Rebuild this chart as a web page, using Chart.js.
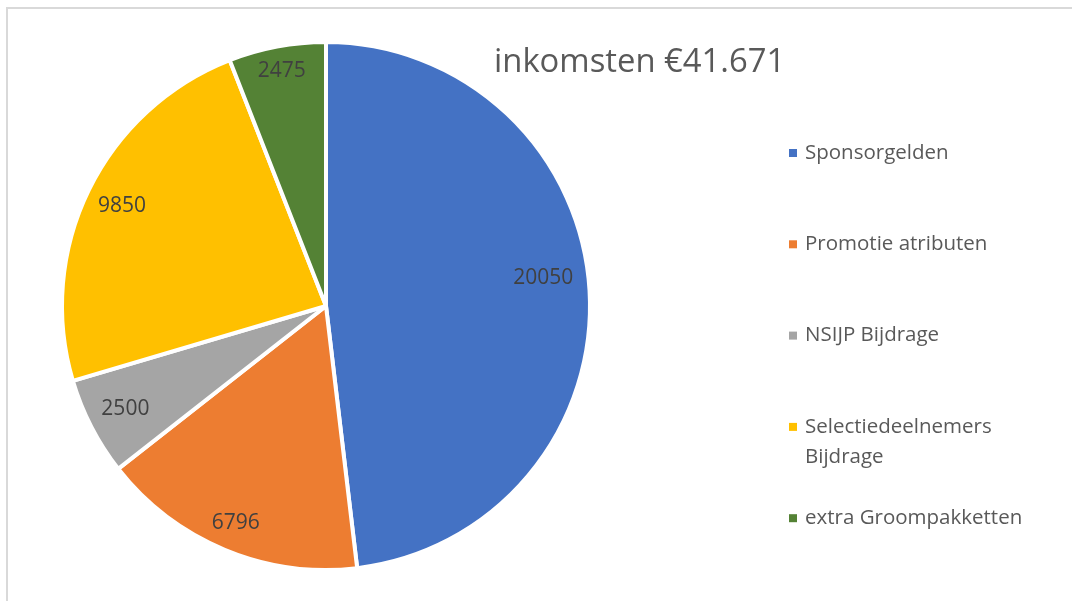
<!DOCTYPE html>
<html lang="nl">
<head>
    <meta charset="UTF-8">
    <title>inkomsten</title>
    <script src="https://cdn.jsdelivr.net/npm/chart.js"></script>
    <style>
        html, body { margin: 0; padding: 0; background: #fff; overflow: hidden; }
        #frame {
            position: absolute; left: 6px; top: 7px;
            width: 2000px; height: 2000px;
            border-left: 2px solid #d9d9d9; border-top: 2px solid #d9d9d9;
        }
        #wrap { position: absolute; left: 0; top: 0; width: 1072px; height: 601px; }
    </style>
</head>
<body>
    <div id="frame"></div>
    <div id="wrap"><canvas id="incomeChart" width="1072" height="601"></canvas></div>

    <script>
        const titleText = 'inkomsten €41.671';
        const categories = ['Sponsorgelden', 'Promotie atributen', 'NSIJP Bijdrage', 'Selectiedeelnemers Bijdrage', 'extra Groompakketten'];
        const legendLines = [['Sponsorgelden'], ['Promotie atributen'], ['NSIJP Bijdrage'], ['Selectiedeelnemers', 'Bijdrage'], ['extra Groompakketten']];
        const amounts = [20050, 6796, 2500, 9850, 2475];
        const sliceColors = ['#4472C4', '#ED7D31', '#A5A5A5', '#FFC000', '#548235'];

        const fontFamily = '"Open Sans", "Liberation Sans", sans-serif';
        // how far out along the slice each value label sits (like Excel's best fit)
        const labelRadius = [0.83, 0.89, 0.855, 0.86, 0.905];
        const labelTurn = [-0.07, 0, 0, 0, 0]; // radians, nudge along the arc

        // labels inside the slices, title and the legend on the right
        const decorations = {
            id: 'decorations',
            afterDatasetsDraw(chart) {
                const ctx = chart.ctx;
                const meta = chart.getDatasetMeta(0);
                ctx.save();

                ctx.fillStyle = '#404040';
                ctx.font = '21px ' + fontFamily;
                ctx.textAlign = 'center';
                ctx.textBaseline = 'middle';
                meta.data.forEach((arc, i) => {
                    const p = arc.getProps(['x', 'y', 'startAngle', 'endAngle', 'outerRadius']);
                    const mid = (p.startAngle + p.endAngle) / 2 + labelTurn[i];
                    const r = p.outerRadius * labelRadius[i];
                    ctx.fillText(String(amounts[i]), p.x + Math.cos(mid) * r, p.y + Math.sin(mid) * r);
                });

                ctx.fillStyle = '#595959';
                ctx.font = '32.8px ' + fontFamily;
                ctx.textAlign = 'left';
                ctx.fillText(titleText, 494, 63);

                ctx.font = '20.5px ' + fontFamily;
                legendLines.forEach((lines, i) => {
                    const y = 153 + i * 91.3;
                    ctx.fillStyle = sliceColors[i];
                    ctx.fillRect(789, y - 4, 8, 8);
                    ctx.fillStyle = '#595959';
                    lines.forEach((t, j) => ctx.fillText(t, 805, y + j * 30));
                });
                ctx.restore();
            }
        };

        new Chart(document.getElementById('incomeChart'), {
            type: 'pie',
            data: {
                labels: categories,
                datasets: [{
                    data: amounts,
                    backgroundColor: sliceColors,
                    borderColor: '#ffffff',
                    borderWidth: 4
                }]
            },
            options: {
                responsive: false,
                animation: false,
                events: [],
                layout: { padding: { left: 60, right: 480, top: 39, bottom: 28 } },
                plugins: {
                    legend: { display: false },
                    title: { display: false },
                    tooltip: { enabled: false }
                }
            },
            plugins: [decorations]
        });
    </script>
</body>
</html>
